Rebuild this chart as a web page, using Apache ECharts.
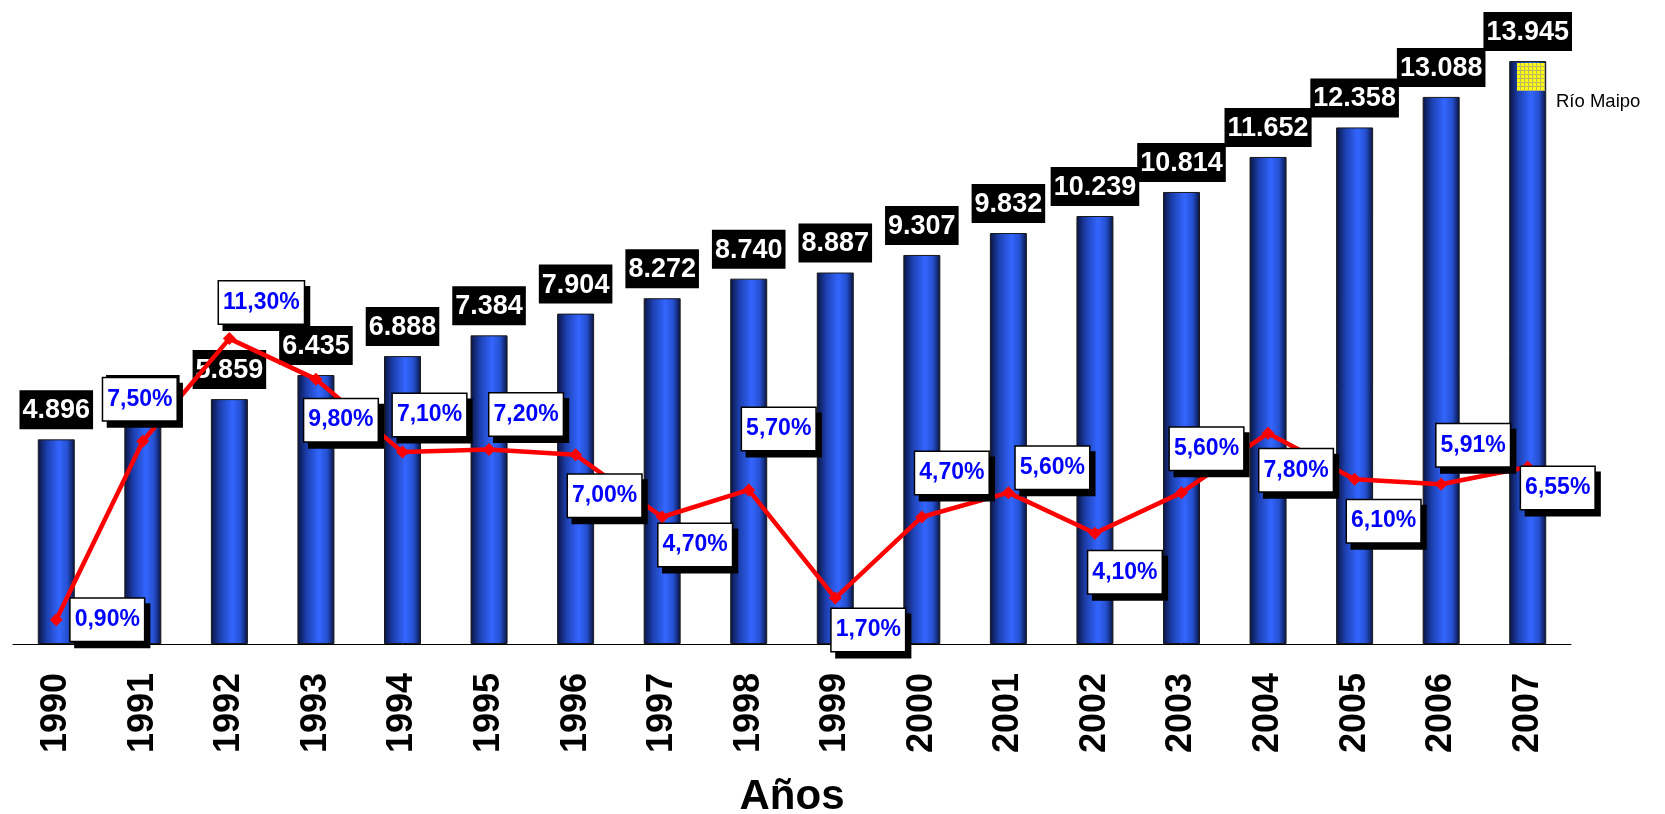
<!DOCTYPE html>
<html lang="es">
<head>
<meta charset="utf-8">
<title>Río Maipo</title>
<style>
  html, body { margin: 0; padding: 0; background: #fff; }
  #main { width: 1665px; height: 814px; }
</style>
</head>
<body>
<div id="main"></div>
<script src="https://cdn.jsdelivr.net/npm/echarts@6/dist/echarts.min.js"></script>
<script>
// datos
var years = ['1990', '1991', '1992', '1993', '1994', '1995', '1996', '1997', '1998',
             '1999', '2000', '2001', '2002', '2003', '2004', '2005', '2006', '2007'];
var volumes = [4896, 5263, 5859, 6435, 6888, 7384, 7904, 8272, 8740,
               8887, 9307, 9832, 10239, 10814, 11652, 12358, 13088, 13945];
var growth = [0.90, 7.50, 11.30, 9.80, 7.10, 7.20, 7.00, 4.70, 5.70,
              1.70, 4.70, 5.60, 4.10, 5.60, 7.80, 6.10, 5.91, 6.55];

// where each % box sits relative to its point (px)
var growthLabelOffsets = [[51, 0], [-3, -42], [32, -36], [25, 41], [27, -37], [37, -35],
                          [29, 41], [33, 28], [30, -61], [33, 32], [30, -44], [44, -25],
                          [30, 39], [25, -44], [28, 37], [29, 42], [32, -39], [30, 21]];

var FONT = '"Liberation Sans", Arial, sans-serif';

function fmtThousands(v) {
    return String(v).replace(/\B(?=(\d{3})+(?!\d))/g, '.');
}
function fmtPct(v) {
    return v.toFixed(2).replace('.', ',') + '%';
}

var chart = echarts.init(document.getElementById('main'));

var option = {
    animation: false,
    backgroundColor: '#fff',
    grid: { left: 13, right: 94, top: 17, bottom: 170, outerBoundsMode: 'none' },
    legend: {
        data: [{
            name: 'Río Maipo',
            icon: 'rect',
            itemStyle: {
                color: '#b8b860',
                borderWidth: 0,
                decal: {
                    symbol: 'rect',
                    symbolSize: 1,
                    color: '#ffff10',
                    dashArrayX: [3, 1],
                    dashArrayY: [3, 1]
                }
            }
        }],
        left: 1512,
        top: 58,
        itemWidth: 28,
        itemHeight: 28,
        selectedMode: false,
        formatter: function () { return ''; }
    },
    graphic: [{
        type: 'text',
        left: 1556,
        top: 92,
        style: { text: 'Río Maipo', fontFamily: FONT, fontSize: 18.5, fill: '#000' }
    }],
    xAxis: {
        type: 'category',
        data: years,
        name: 'Años',
        nameLocation: 'middle',
        nameGap: 132,
        nameTextStyle: { fontFamily: FONT, fontSize: 42, fontWeight: 'bold', color: '#000' },
        axisLine: { lineStyle: { color: '#000', width: 1 } },
        axisTick: { length: 11, interval: 0, lineStyle: { color: '#000' } },
        axisLabel: {
            rotate: 90,
            interval: 0,
            margin: 29,
            fontFamily: FONT,
            fontSize: 36,
            fontWeight: 'bold',
            color: '#000'
        }
    },
    yAxis: [
        { type: 'value', min: 0, max: 15000, show: false, splitLine: { show: false } },
        { type: 'value', min: 0, max: 23.2, show: false, splitLine: { show: false } }
    ],
    series: [
        {
            name: 'Río Maipo',
            type: 'bar',
            z: 2,
            barWidth: 37,
            data: volumes,
            itemStyle: {
                borderColor: '#1a1a1a',
                borderWidth: 1,
                color: new echarts.graphic.LinearGradient(0, 0, 1, 0, [
                    { offset: 0, color: '#0a1440' },
                    { offset: 0.25, color: '#1d40b0' },
                    { offset: 0.58, color: '#3366ff' },
                    { offset: 0.8, color: '#2550d0' },
                    { offset: 1, color: '#08123c' }
                ])
            },
            label: {
                show: true,
                position: 'top',
                distance: 10,
                formatter: function (p) { return fmtThousands(p.value); },
                fontFamily: FONT,
                fontSize: 27,
                fontWeight: 'bold',
                color: '#fff',
                backgroundColor: '#000',
                padding: [7, 3, 5, 3]
            }
        },
        {
            name: 'Crecimiento',
            type: 'line',
            yAxisIndex: 1,
            z: 5,
            data: growth.map(function (v, i) {
                return { value: v, label: { offset: growthLabelOffsets[i] } };
            }),
            symbol: 'diamond',
            symbolSize: 13,
            lineStyle: { color: '#ff0000', width: 4.5 },
            itemStyle: { color: '#ff0000' },
            label: {
                show: true,
                position: 'inside',
                formatter: function (p) { return fmtPct(p.value); },
                fontFamily: FONT,
                fontSize: 23,
                fontWeight: 'bold',
                color: '#0000ff',
                backgroundColor: '#fff',
                borderColor: '#000',
                borderWidth: 1.5,
                padding: [10, 4, 9, 4],
                shadowColor: '#000',
                shadowBlur: 0,
                shadowOffsetX: 5,
                shadowOffsetY: 6
            }
        }
    ]
};

chart.setOption(option);
</script>
</body>
</html>
